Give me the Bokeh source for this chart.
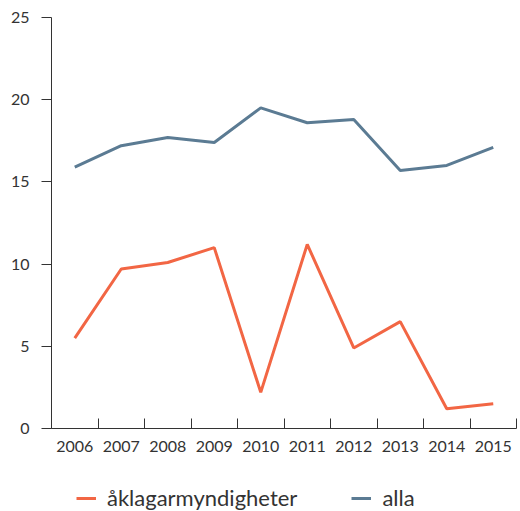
from bokeh.plotting import figure
from bokeh.models import Range1d, FixedTicker, Legend, LegendItem
from bokeh.layouts import column
from bokeh.embed import file_html
from bokeh.resources import INLINE

years = [2006, 2007, 2008, 2009, 2010, 2011, 2012, 2013, 2014, 2015]
aklagar = [5.5, 9.7, 10.1, 11.0, 2.2, 11.2, 4.9, 6.5, 1.2, 1.5]
alla = [15.9, 17.2, 17.7, 17.4, 19.5, 18.6, 18.8, 15.7, 16.0, 17.1]
y_ticks = [0, 5, 10, 15, 20, 25]
series_names = ["åklagarmyndigheter", "alla"]
colors = ["#f26644", "#5b7b93"]

FONT = "Lato"
TXT = "#333333"

p = figure(width=520, height=466, output_backend="svg", toolbar_location=None,
           x_range=Range1d(years[0] - 0.5, years[-1] + 0.5), y_range=Range1d(0, 25),
           min_border_left=51, min_border_right=4, min_border_top=17, min_border_bottom=38)
p.outline_line_color = None
p.xgrid.grid_line_color = None
p.ygrid.grid_line_color = None

p.line(years, aklagar, line_color=colors[0], line_width=3)
p.line(years, alla, line_color=colors[1], line_width=3)

bounds = [y - 0.5 for y in years] + [years[-1] + 0.5]
p.xaxis.ticker = FixedTicker(ticks=years, minor_ticks=bounds)
p.xaxis.major_tick_line_color = None
p.xaxis.major_tick_in = 0
p.xaxis.major_tick_out = 0
p.xaxis.minor_tick_in = 10
p.xaxis.minor_tick_out = 0
p.xaxis.minor_tick_line_color = TXT
p.xaxis.major_label_standoff = 12

p.yaxis.ticker = FixedTicker(ticks=y_ticks)
p.yaxis.major_tick_in = 0
p.yaxis.major_tick_out = 10
p.yaxis.major_tick_line_color = TXT
p.yaxis.minor_tick_line_color = None
p.yaxis.major_label_standoff = 12

for ax in (p.xaxis, p.yaxis):
    ax.axis_line_color = TXT
    ax.major_label_text_font = FONT
    ax.major_label_text_font_size = "16px"
    ax.major_label_text_color = TXT

# legend-only strip below the chart (its frame is aligned with the chart's frame)
lg = figure(width=520, height=45, output_backend="svg", toolbar_location=None,
            x_axis_location=None, y_axis_location=None,
            min_border=0, x_range=Range1d(0, 1), y_range=Range1d(0, 1))
lg.outline_line_color = None
lg.xgrid.grid_line_color = None
lg.ygrid.grid_line_color = None
# same series, outside this strip's view: only their legend glyphs show
l1 = lg.line(years, aklagar, line_color=colors[0], line_width=3)
l2 = lg.line(years, alla, line_color=colors[1], line_width=3)

legend = Legend(items=[LegendItem(label=series_names[0], renderers=[l1]),
                       LegendItem(label=series_names[1], renderers=[l2])],
                orientation="horizontal", location=(25, 0),
                padding=0, margin=0, spacing=54, glyph_width=20, label_standoff=11,
                label_text_font=FONT, label_text_font_size="22px", label_text_color=TXT,
                border_line_color=None, background_fill_alpha=0)
lg.add_layout(legend, "center")

open("out.html", "w").write(file_html(column(p, lg), INLINE))
